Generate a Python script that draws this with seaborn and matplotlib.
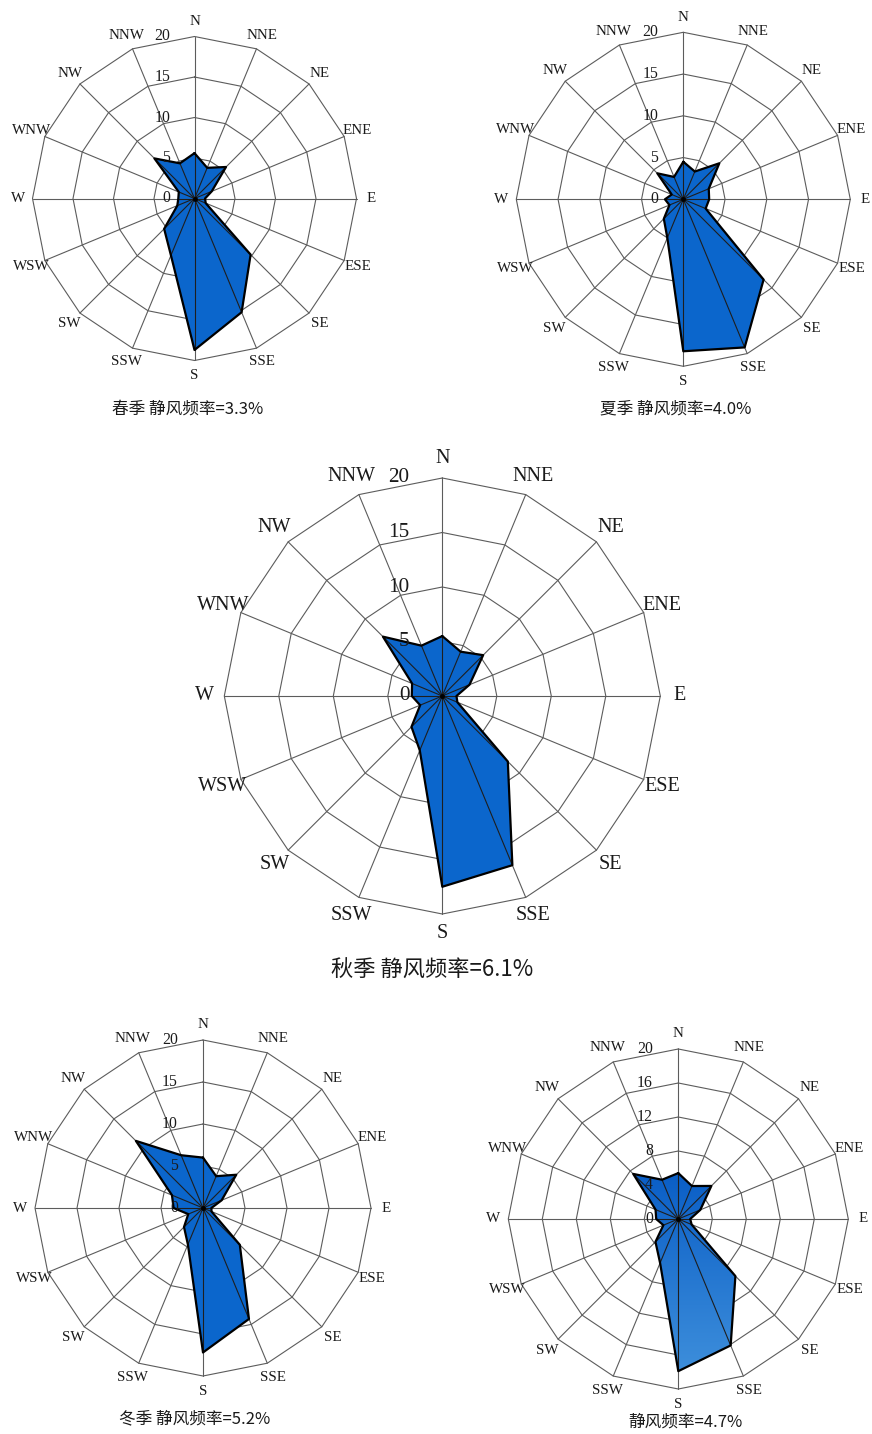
import numpy as np
import pandas as pd
import matplotlib
matplotlib.use("Agg")
import matplotlib.pyplot as plt
from matplotlib.patches import Polygon
from matplotlib.colors import LinearSegmentedColormap
import seaborn as sns

# Wind direction frequency (%) for 16 compass points
directions = ["N", "NNE", "NE", "ENE", "E", "ESE", "SE", "SSE",
              "S", "SSW", "SW", "WSW", "W", "WNW", "NW", "NNW"]
spring = [5.6, 4.1, 5.5, 2.3, 1.3, 1.5, 9.8, 15.2, 18.7, 7.6, 5.3, 2.3, 2.0, 2.1, 7.0, 4.7]
summer = [4.5, 3.6, 6.1, 3.3, 3.1, 2.9, 13.6, 19.2, 18.2, 5.0, 3.3, 1.8, 2.2, 1.5, 4.4, 2.9]
autumn = [5.5, 4.4, 5.3, 2.7, 1.3, 1.5, 8.5, 16.8, 17.5, 5.4, 4.0, 2.2, 2.8, 3.0, 7.7, 5.0]
winter = [6.0, 4.1, 5.6, 2.4, 1.0, 1.1, 6.2, 14.3, 17.2, 4.7, 3.2, 1.9, 3.5, 4.0, 11.3, 6.8]
annual = [5.4, 4.2, 5.5, 2.8, 1.4, 1.7, 9.5, 16.1, 17.9, 5.6, 3.8, 1.9, 2.6, 2.9, 7.5, 5.0]

ticks_by5 = [0, 5, 10, 15, 20]
ticks_by4 = [0, 4, 8, 12, 16, 20]

captions = ["春季 静风频率=3.3%", "夏季 静风频率=4.0%", "秋季 静风频率=6.1%",
            "冬季 静风频率=5.2%", "静风频率=4.7%"]

sns.set_theme(style="white")
plt.rcParams["font.family"] = ["Liberation Serif", "Noto Sans CJK SC", "DejaVu Sans"]

W, H = 872, 1434
fig = plt.figure(figsize=(W / 100, H / 100), dpi=100)
fig.patch.set_facecolor("white")

FILL = "#0b66cc"
GRID = "#5c5c5c"
TXT = "#1a1a1a"


def rose(cx, cy, r_out, values, ticks, lab_fs, gradient=False):
    lim = 24.0
    s = r_out / 20.0
    ax = fig.add_axes([(cx - lim * s) / W, (H - cy - lim * s) / H,
                       2 * lim * s / W, 2 * lim * s / H])
    ax.set_axis_off()
    theta = np.deg2rad(np.arange(len(directions)) * 22.5)
    sx, sy = np.sin(theta), np.cos(theta)
    rmax = ticks[-1]

    # polygonal rings and spokes
    for t in ticks[1:]:
        ax.plot(np.append(t * sx, t * sx[0]), np.append(t * sy, t * sy[0]),
                color=GRID, lw=0.8, zorder=1)
    for i in range(len(directions)):
        ax.plot([0, rmax * sx[i]], [0, rmax * sy[i]], color=GRID, lw=0.8, zorder=1)

    v = np.asarray(values, dtype=float)
    px, py = v * sx, v * sy
    if gradient:
        patch = Polygon(np.column_stack([px, py]), closed=True,
                        facecolor="none", edgecolor="none", zorder=2)
        ax.add_patch(patch)
        cmap = LinearSegmentedColormap.from_list("blue_grad", ["#0a5ec6", "#3d8edb"])
        im = ax.imshow(np.linspace(0, 1, 256).reshape(-1, 1),
                       extent=(px.min(), px.max(), py.min(), py.max()),
                       origin="upper", cmap=cmap, aspect="auto", zorder=2)
        im.set_clip_path(patch)
    else:
        ax.fill(px, py, color=FILL, zorder=2, lw=0)

    # spokes visible through the filled area
    for i in range(len(directions)):
        ax.plot([0, px[i]], [0, py[i]], color="#1e1e1e", lw=0.8, zorder=3)

    outline = pd.DataFrame({"x": np.append(px, px[0]), "y": np.append(py, py[0])})
    sns.lineplot(data=outline, x="x", y="y", sort=False, estimator=None,
                 color="black", lw=1.6, ax=ax, zorder=4)
    ax.plot(0, 0, "o", color="black", ms=2.5, zorder=5)

    lr = rmax * 1.09
    for i, d in enumerate(directions):
        ax.text(lr * sx[i], lr * sy[i], d, ha="center", va="center",
                fontsize=lab_fs, color=TXT)
    for t in ticks:
        ax.text(-0.15 * rmax, t, str(t), ha="right", va="center",
                fontsize=lab_fs * 1.05, color=TXT, zorder=6)

    ax.set_xlim(-lim, lim)
    ax.set_ylim(-lim, lim)
    ax.set_aspect("equal")
    return ax


rose(194.5, 198.5, 162, spring, ticks_by5, 10.8)
rose(683.3, 199.3, 167, summer, ticks_by5, 10.8)
rose(442.3, 696.0, 218, autumn, ticks_by5, 14.5)
rose(203.0, 1208.0, 168, winter, ticks_by5, 10.8)
rose(678.3, 1219.0, 170, annual, ticks_by4, 10.8, gradient=True)

cap_pos = [(188, 409, 12), (676, 409, 12), (432, 970, 16),
           (195, 1419, 12), (685, 1422, 12)]
for text, (x, y, fs) in zip(captions, cap_pos):
    fig.text(x / W, 1 - y / H, text, ha="center", va="center", fontsize=fs,
             color=TXT, family=["Noto Sans CJK SC", "DejaVu Sans"])

fig.savefig("out.png", dpi=100, facecolor="white")
